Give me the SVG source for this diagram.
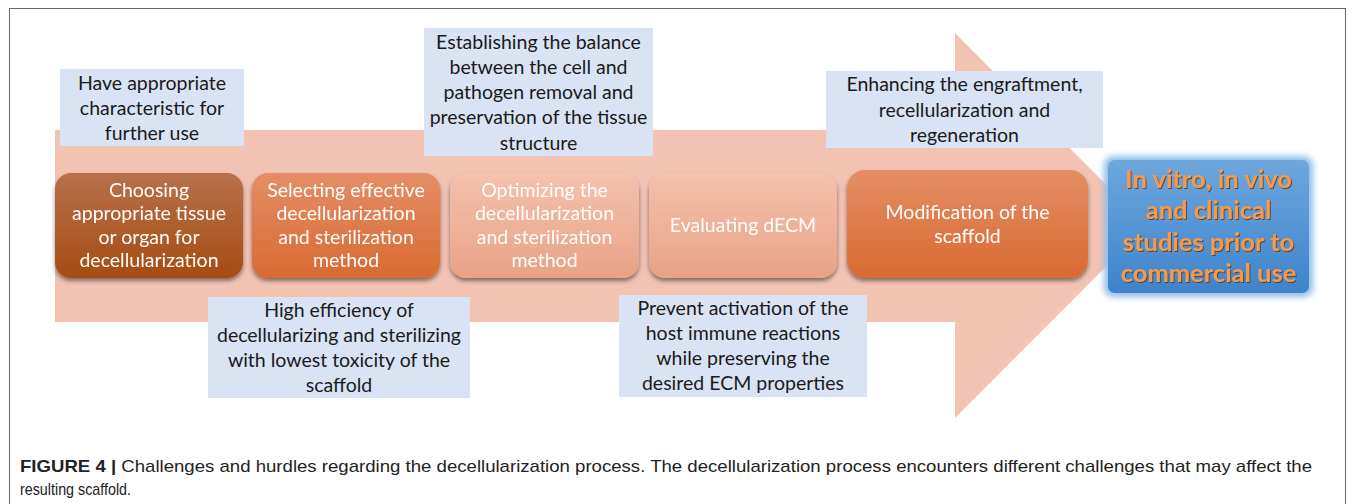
<svg xmlns="http://www.w3.org/2000/svg" width="1355" height="504" viewBox="0 0 1355 504">
  <style>
    .note { fill: #DAE3F3; }
    .note-text { font-family: Lato, "Open Sans", sans-serif; font-size: 19.5px; fill: #1a1a1a; text-anchor: middle; }
    .step-text { font-family: Lato, "Open Sans", sans-serif; font-size: 19.5px; fill: #ffffff; text-anchor: middle; }
    .goal-text { font-family: Lato, "Open Sans", sans-serif; font-size: 25.5px; font-weight: bold; fill: #F39A4E; text-anchor: middle; }
    .caption { font-family: "Liberation Sans", Arial, sans-serif; font-size: 17px; fill: #222; }
  </style>
  <defs>
    <linearGradient id="gStep1" x1="0" y1="0" x2="0" y2="1">
      <stop offset="0" stop-color="#B8704C"/>
      <stop offset="1" stop-color="#A64C10"/>
    </linearGradient>
    <linearGradient id="gStep2" x1="0" y1="0" x2="0" y2="1">
      <stop offset="0" stop-color="#E48E66"/>
      <stop offset="1" stop-color="#D96A30"/>
    </linearGradient>
    <linearGradient id="gStep3" x1="0" y1="0" x2="0" y2="1">
      <stop offset="0" stop-color="#F5C2AC"/>
      <stop offset="1" stop-color="#E8A286"/>
    </linearGradient>
    <linearGradient id="gGoal" x1="0" y1="0" x2="0" y2="1">
      <stop offset="0" stop-color="#6EA7DD"/>
      <stop offset="1" stop-color="#3E83CB"/>
    </linearGradient>
    <filter id="shadow" x="-10%" y="-10%" width="120%" height="130%">
      <feDropShadow dx="0" dy="3" stdDeviation="2" flood-color="#000" flood-opacity="0.45"/>
    </filter>
    <filter id="glow" x="-10%" y="-10%" width="120%" height="120%">
      <feGaussianBlur stdDeviation="3"/>
    </filter>
    <filter id="textShadow" x="-5%" y="-20%" width="110%" height="140%">
      <feDropShadow dx="1" dy="1" stdDeviation="0.6" flood-color="#5a3010" flood-opacity="0.8"/>
    </filter>
  </defs>

  <!-- figure frame -->
  <rect x="9.5" y="8.5" width="1336" height="600" fill="#fff" stroke="#666" stroke-width="1"/>

  <!-- process arrow -->
  <g id="process-arrow">
    <path d="M55,130 H955 V33 L1147,225.5 L955,418 V322 H55 Z" fill="#F2C3B3"/>
  </g>

  <!-- challenge notes -->
  <g id="note-characteristic">
    <rect class="note" x="60" y="69" width="184" height="77"/>
    <text class="note-text" x="152" y="90">Have appropriate</text>
    <text class="note-text" x="152" y="115">characteristic for</text>
    <text class="note-text" x="152" y="140">further use</text>
  </g>
  <g id="note-balance">
    <rect class="note" x="424" y="28" width="229" height="128"/>
    <text class="note-text" x="538.5" y="49">Establishing the balance</text>
    <text class="note-text" x="538.5" y="74">between the cell and</text>
    <text class="note-text" x="538.5" y="99">pathogen removal and</text>
    <text class="note-text" x="538.5" y="124">preservation of the tissue</text>
    <text class="note-text" x="538.5" y="150">structure</text>
  </g>
  <g id="note-engraftment">
    <rect class="note" x="826" y="71" width="277" height="77"/>
    <text class="note-text" x="964.5" y="91">Enhancing the engraftment,</text>
    <text class="note-text" x="964.5" y="117">recellularization and</text>
    <text class="note-text" x="964.5" y="142">regeneration</text>
  </g>
  <g id="note-efficiency">
    <rect class="note" x="208" y="297" width="262" height="101"/>
    <text class="note-text" x="339" y="317">High efficiency of</text>
    <text class="note-text" x="339" y="342">decellularizing and sterilizing</text>
    <text class="note-text" x="339" y="367">with lowest toxicity of the</text>
    <text class="note-text" x="339" y="392">scaffold</text>
  </g>
  <g id="note-immune">
    <rect class="note" x="619" y="295" width="248" height="102"/>
    <text class="note-text" x="743" y="315">Prevent activation of the</text>
    <text class="note-text" x="743" y="340">host immune reactions</text>
    <text class="note-text" x="743" y="365">while preserving the</text>
    <text class="note-text" x="743" y="390">desired ECM properties</text>
  </g>

  <!-- process steps -->
  <g id="step-choosing" filter="url(#shadow)">
    <rect x="55" y="173" width="188" height="105" rx="16" fill="url(#gStep1)"/>
    <text class="step-text" x="149" y="197">Choosing</text>
    <text class="step-text" x="149" y="220">appropriate tissue</text>
    <text class="step-text" x="149" y="244">or organ for</text>
    <text class="step-text" x="149" y="267">decellularization</text>
  </g>
  <g id="step-selecting" filter="url(#shadow)">
    <rect x="252" y="173" width="188" height="105" rx="16" fill="url(#gStep2)"/>
    <text class="step-text" x="346" y="197">Selecting effective</text>
    <text class="step-text" x="346" y="220">decellularization</text>
    <text class="step-text" x="346" y="244">and sterilization</text>
    <text class="step-text" x="346" y="267">method</text>
  </g>
  <g id="step-optimizing" filter="url(#shadow)">
    <rect x="450" y="173" width="189" height="105" rx="16" fill="url(#gStep3)"/>
    <text class="step-text" x="544.5" y="197">Optimizing the</text>
    <text class="step-text" x="544.5" y="220">decellularization</text>
    <text class="step-text" x="544.5" y="244">and sterilization</text>
    <text class="step-text" x="544.5" y="267">method</text>
  </g>
  <g id="step-evaluating" filter="url(#shadow)">
    <rect x="649" y="173" width="188" height="105" rx="16" fill="url(#gStep3)"/>
    <text class="step-text" x="743" y="232">Evaluating dECM</text>
  </g>
  <g id="step-modification" filter="url(#shadow)">
    <rect x="847" y="170" width="241" height="108" rx="18" fill="url(#gStep2)"/>
    <text class="step-text" x="967.5" y="219">Modification of the</text>
    <text class="step-text" x="967.5" y="243">scaffold</text>
  </g>

  <!-- final goal -->
  <g id="goal-studies">
    <rect x="1104" y="156" width="209" height="141" rx="9" fill="#8FBDEB" filter="url(#glow)"/>
    <rect x="1108" y="160" width="201" height="133" rx="7" fill="url(#gGoal)"/>
    <g filter="url(#textShadow)">
      <text class="goal-text" x="1208.5" y="188">In vitro, in vivo</text>
      <text class="goal-text" x="1208.5" y="219">and clinical</text>
      <text class="goal-text" x="1208.5" y="251">studies prior to</text>
      <text class="goal-text" x="1208.5" y="282">commercial use</text>
    </g>
  </g>

  <!-- caption -->
  <g id="caption">
    <text class="caption" x="20" y="472" textLength="1292" lengthAdjust="spacingAndGlyphs"><tspan font-weight="bold">FIGURE 4 |</tspan> Challenges and hurdles regarding the decellularization process. The decellularization process encounters different challenges that may affect the</text>
    <text class="caption" x="20" y="495" textLength="111" lengthAdjust="spacingAndGlyphs">resulting scaffold.</text>
  </g>
</svg>
